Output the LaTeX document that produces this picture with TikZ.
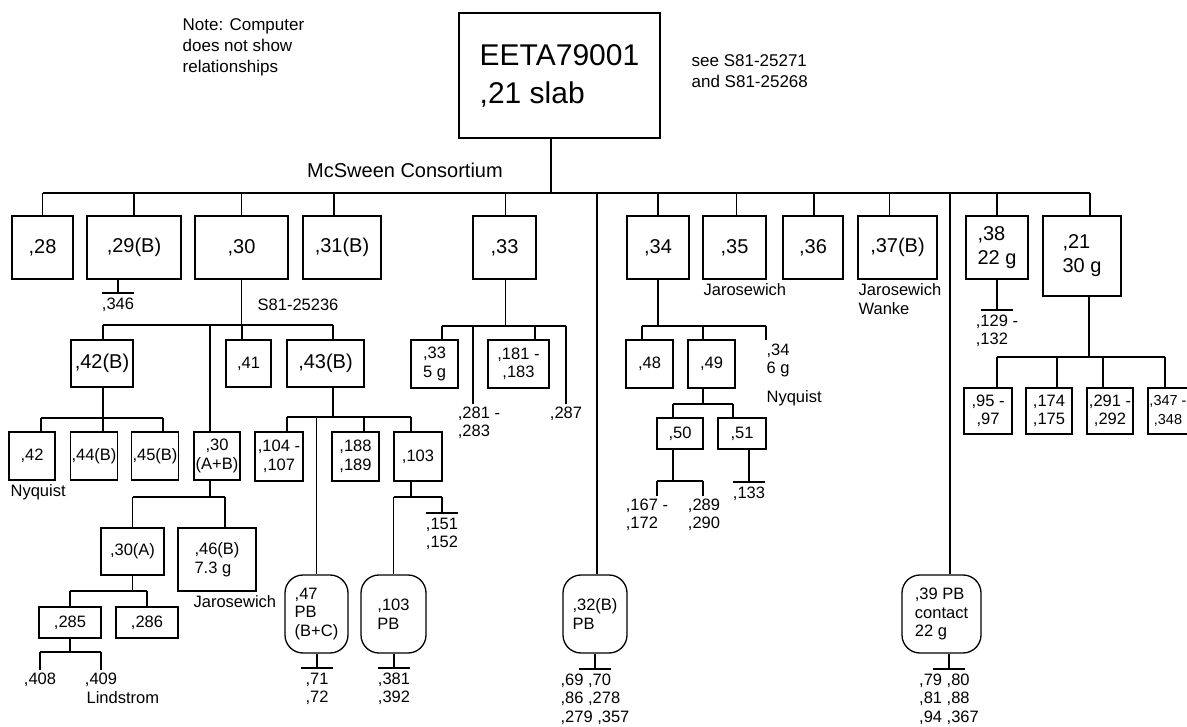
\documentclass[tikz,border=0pt]{standalone}
\usepackage{fontspec}
\setmainfont{Liberation Sans}
\newcommand\sizeS{\fontsize{16.5}{18.5}\selectfont}
\newcommand\sizeT{\fontsize{14.5}{18.5}\selectfont}
\newcommand\sizeN{\fontsize{17}{21}\selectfont}
\newcommand\sizeL{\fontsize{20}{24}\selectfont}
\newcommand\sizeH{\fontsize{30}{38}\selectfont}
\newcommand\vup[3]{\draw ([xshift=#2pt]#1.north) -- ([xshift=#2pt]#1.north |- #3);}
\newcommand\vdown[3]{\draw ([xshift=#2pt]#1.south) -- ([xshift=#2pt]#1.south |- #3);}
\newcommand\hbus[5]{\draw ([xshift=#2pt]#1.north |- #5) -- ([xshift=#4pt]#3.north |- #5);}
\newcommand\teebar[1]{\draw ([xshift=-16pt]#1.north) -- ([xshift=16pt]#1.north);}
\begin{document}
\begin{tikzpicture}[x=1pt,y=-1pt,line width=1.3pt,
  wh/.style 2 args={minimum width=#1pt,minimum height=#2pt},
  box/.style={draw,rectangle,inner sep=1pt,align=center,font=\sizeS},
  big/.style={font=\sizeL},
  pb/.style={draw,rectangle,rounded corners=18pt,inner sep=1pt,align=left,font=\sizeS},
  lbl/.style={inner sep=0pt,align=left,font=\sizeS},
  leaf/.style={lbl,anchor=north,inner ysep=2pt},
  tee/.style={lbl,anchor=north,inner ysep=4pt}]
\useasboundingbox (0,0) rectangle (1187,727);
\fill[white] (0,0) rectangle (1187,727);

% notes
\node[lbl,font=\sizeN,anchor=west] (note) at (182,47) {Note: Computer\\does not show\\relationships};
\node[lbl,font=\sizeN,anchor=west] (see) at (691,71.5) {see S81-25271\\and S81-25268};
\node[lbl,font=\sizeL] (mcs) at (405,170) {McSween Consortium};

% root
\node[box,font=\sizeH,align=left,wh={201}{125}] (root) at (559.5,75.5) {EETA79001\\,21 slab};

% level 1
\node[box,big,wh={61}{63}] (n28) at (42.5,247.5) {,28};
\node[box,big,wh={94}{63}] (n29) at (134,247.5) {,29(B)};
\node[box,big,wh={93}{63}] (n30) at (241.5,247.5) {,30};
\node[box,big,wh={78}{63}] (n31) at (342,247.5) {,31(B)};
\node[box,big,wh={63}{63}] (n33) at (504.5,247.5) {,33};
\node[box,big,wh={62}{63}] (n34) at (658,247.5) {,34};
\node[box,big,wh={63}{63}] (n35) at (734.5,247.5) {,35};
\node[box,big,wh={60}{63}] (n36) at (813,247.5) {,36};
\node[box,big,wh={79}{63}] (n37) at (897.5,247.5) {,37(B)};
\node[box,big,align=left,wh={62}{63}] (n38) at (997,247.5) {,38\\22 g};
\node[box,big,align=left,wh={78}{80}] (n21) at (1082,256) {,21\\30 g};

\node[pb,wh={64}{78}] (n32PB) at (595,614) {,32(B)\\PB};
\node[pb,wh={79}{78}] (n39PB) at (941.5,614) {,39 PB\\contact\\22 g};

\coordinate (bus1) at (551,193);
\draw ([xshift=-8.5pt]root.south) -- (bus1);
\hbus{n28}{0}{n21}{8}{bus1}
\vup{n28}{0}{bus1}
\vup{n29}{0}{bus1}
\vup{n30}{0}{bus1}
\vup{n31}{-8}{bus1}
\vup{n33}{1}{bus1}
\vup{n32PB}{2}{bus1}
\vup{n34}{0}{bus1}
\vup{n35}{2}{bus1}
\vup{n36}{1}{bus1}
\vup{n37}{-8}{bus1}
\vup{n39PB}{8.5}{bus1}
\vup{n38}{0}{bus1}
\vup{n21}{8}{bus1}

\node[lbl,anchor=west] (jar1) at (703,290) {Jarosewich};
\node[lbl,anchor=west] (jar2) at (858,299) {Jarosewich\\Wanke};

% .29
\node[tee] (l346) at (118,293) {,346};
\draw (l346.north) -- (l346.north |- n29.south);
\teebar{l346}

% .30 subtree
\node[lbl,anchor=west] (s81) at (257,305) {S81-25236};
\node[box,big,wh={62}{47}] (n42B) at (102,363.5) {,42(B)};
\node[box,wh={45}{47}] (n41) at (248.5,363.5) {,41};
\node[box,big,wh={77}{47}] (n43B) at (325.5,363.5) {,43(B)};
\node[box,wh={46}{48}] (n42) at (32,456) {,42};
\node[box,wh={46}{48}] (n44B) at (94,456) {,44(B)};
\node[box,wh={46}{48}] (n45B) at (155,456) {,45(B)};
\node[box,wh={46}{48}] (n30AB) at (217,456) {,30\\(A+B)};
\node[box,wh={48}{49}] (n104) at (279,456.5) {,104 -\\,107};
\node[box,wh={47}{49}] (n188) at (355.5,456.5) {,188\\,189};
\node[box,wh={48}{49}] (n103) at (418,456.5) {,103};

\coordinate (b30) at (242,325);
\vdown{n30}{0}{b30}
\hbus{n42B}{1}{n43B}{7.5}{b30}
\vup{n42B}{1}{b30}
\vup{n30AB}{-7}{b30}
\vup{n41}{-6.5}{b30}
\vup{n43B}{7.5}{b30}

\coordinate (b42) at (103,418);
\vdown{n42B}{1}{b42}
\hbus{n42}{9}{n45B}{8}{b42}
\vup{n42}{9}{b42}
\vup{n44B}{9}{b42}
\vup{n45B}{8}{b42}
\node[lbl,anchor=west] (nyq1) at (10,492) {Nyquist};

\node[box,wh={63}{47}] (n30A) at (132.5,551.5) {,30(A)};
\node[box,align=left,wh={78}{63}] (n46B) at (217,559.5) {,46(B)\\7.3 g};
\node[lbl,anchor=west] (jar3) at (193,602) {Jarosewich};
\coordinate (b30ab) at (210,497);
\vdown{n30AB}{-7}{b30ab}
\hbus{n30A}{0}{n46B}{8}{b30ab}
\vup{n30A}{0}{b30ab}
\vup{n46B}{8}{b30ab}

\node[box,wh={62}{31}] (n285) at (70,622.5) {,285};
\node[box,wh={62}{31}] (n286) at (147,622.5) {,286};
\coordinate (b30a) at (132,591);
\vdown{n30A}{0}{b30a}
\hbus{n285}{0}{n286}{0}{b30a}
\vup{n285}{0}{b30a}
\vup{n286}{0}{b30a}

\node[leaf] (l408) at (40,670) {,408};
\node[leaf] (l409) at (101,670) {,409};
\node[lbl,anchor=west] (lind) at (86,698) {Lindstrom};
\coordinate (b285) at (70,652);
\vdown{n285}{0}{b285}
\hbus{l408}{0}{l409}{0}{b285}
\vup{l408}{0}{b285}
\vup{l409}{0}{b285}

% .43(B) subtree
\node[pb,wh={63}{78}] (n47PB) at (316.5,614) {,47\\PB\\(B+C)};
\node[pb,wh={65}{78}] (n103PB) at (393.5,614) {,103\\PB};
\coordinate (b43) at (333,417);
\vdown{n43B}{7.5}{b43}
\hbus{n104}{8}{n103}{-7}{b43}
\vup{n104}{8}{b43}
\vup{n47PB}{0}{b43}
\vup{n188}{8.5}{b43}
\vup{n103}{-7}{b43}

\node[tee] (l151) at (442,513) {,151\\,152};
\coordinate (b103) at (411,497);
\vdown{n103}{-7}{b103}
\hbus{n103PB}{0}{l151}{0}{b103}
\vup{n103PB}{0}{b103}
\vup{l151}{0}{b103}
\teebar{l151}

\node[tee] (l71) at (317,668) {,71\\,72};
\draw (l71.north) -- (l71.north |- n47PB.south);
\teebar{l71}
\node[tee] (l381) at (394,668) {,381\\,392};
\draw (l381.north) -- (l381.north |- n103PB.south);
\teebar{l381}

% .33 subtree
\node[box,wh={47}{48}] (n33a) at (434.5,364) {,33\\5 g};
\node[box,wh={61}{48}] (n181) at (518.5,364) {,181 -\\,183};
\node[leaf] (l281) at (479,404) {,281 -\\,283};
\node[leaf] (l287) at (566,404) {,287};
\coordinate (b33) at (506,326);
\vdown{n33}{1}{b33}
\hbus{n33a}{7.5}{l287}{0}{b33}
\vup{n33a}{7.5}{b33}
\vup{l281}{-6}{b33}
\vup{n181}{16.5}{b33}
\vup{l287}{0}{b33}

\node[tee] (l69) at (595,669) {,69 ,70\\,86 ,278\\,279 ,357};
\draw (l69.north) -- (l69.north |- n32PB.south);
\teebar{l69}

% .34 subtree
\node[box,wh={47}{48}] (n48) at (649.5,364) {,48};
\node[box,wh={47}{48}] (n49) at (711.5,364) {,49};
\node[lbl,anchor=north west,inner ysep=3pt] (l34) at (766,340) {,34\\6 g};
\node[lbl,anchor=west] (nyq2) at (766,398) {Nyquist};
\coordinate (b34) at (658,326);
\vdown{n34}{0}{b34}
\draw ([xshift=-7.5pt]n48.north |- b34) -- (l34.north west |- b34);
\vup{n48}{-7.5}{b34}
\vup{n49}{-8.5}{b34}
\draw (l34.north west) -- (l34.north west |- b34);

\node[box,wh={46}{31}] (n50) at (680,433.5) {,50};
\node[box,wh={48}{31}] (n51) at (742,433.5) {,51};
\coordinate (b49) at (703,404);
\vdown{n49}{-8.5}{b49}
\hbus{n50}{-7}{n51}{-9}{b49}
\vup{n50}{-7}{b49}
\vup{n51}{-9}{b49}

\node[leaf] (l167) at (647,496) {,167 -\\,172};
\node[leaf] (l289) at (704,496) {,289\\,290};
\coordinate (b50) at (673,481);
\vdown{n50}{-7}{b50}
\hbus{l167}{10}{l289}{-1}{b50}
\vup{l167}{10}{b50}
\vup{l289}{-1}{b50}

\node[tee] (l133) at (749,482) {,133};
\draw (l133.north) -- (l133.north |- n51.south);
\teebar{l133}

% .38 and .21
\node[tee] (l129) at (997,310) {,129 -\\,132};
\draw (l129.north) -- (l129.north |- n38.south);
\teebar{l129}

\node[box,wh={48}{46}] (n95) at (988,411) {,95 -\\,97};
\node[box,wh={46}{46}] (n174) at (1049,411) {,174\\,175};
\node[box,wh={46}{46}] (n291) at (1110,411) {,291 -\\,292};
\node[box,font=\sizeT,inner sep=0pt,wh={40}{46}] (n347) at (1168,411) {,347 -\\,348};
\coordinate (b21) at (1089,357);
\vdown{n21}{7}{b21}
\hbus{n95}{9}{n347}{-3}{b21}
\vup{n95}{9}{b21}
\vup{n174}{8}{b21}
\vup{n291}{-7}{b21}
\vup{n347}{-3}{b21}

\node[tee] (l79) at (949,669) {,79 ,80\\,81 ,88\\,94 ,367};
\draw (l79.north) -- (l79.north |- n39PB.south);
\teebar{l79}
\end{tikzpicture}
\end{document}
